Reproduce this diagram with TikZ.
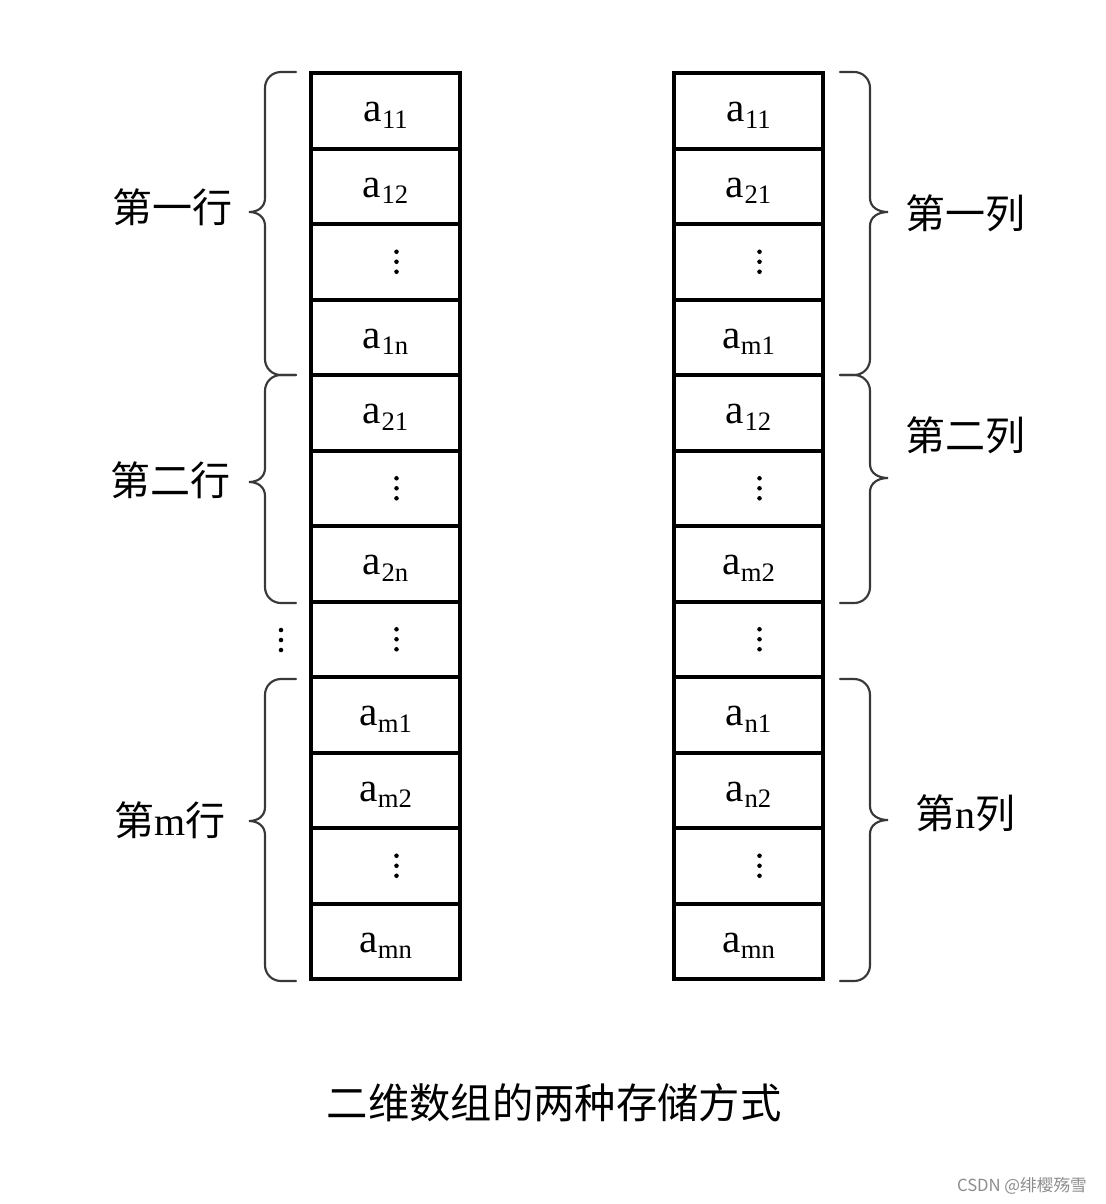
\documentclass[tikz,border=0pt]{standalone}
\usepackage{fontspec}
\setmainfont{Liberation Serif}
\newfontfamily\cjk{Noto Sans CJK SC}
\newcommand\asub[1]{\raisebox{-3.5pt}[\height][\depth]{a\kern0.3pt\raisebox{-5pt}{\fontsize{20}{20}\selectfont #1}}}
\newcommand\bracel[3]{%
  \draw[brc] (296,#1) -- (281,#1) .. controls (272,#1) and (265,#1+7) .. (265,#1+16)
    -- (265,#3-14) .. controls (265,#3-5) and (258,#3) .. (249,#3)
    .. controls (258,#3) and (265,#3+5) .. (265,#3+14)
    -- (265,#2-16) .. controls (265,#2-7) and (272,#2) .. (281,#2) -- (296,#2);}
\newcommand\bracer[3]{%
  \draw[brc] (840,#1) -- (854,#1) .. controls (863,#1) and (870,#1+7) .. (870,#1+16)
    -- (870,#3-14) .. controls (870,#3-5) and (878,#3) .. (888,#3)
    .. controls (878,#3) and (870,#3+5) .. (870,#3+14)
    -- (870,#2-16) .. controls (870,#2-7) and (863,#2) .. (854,#2) -- (840,#2);}
\newcommand\threedots[1]{%
  \foreach \d in {-10,0,10} {\fill[shift={(#1)}] (0,\d) circle[radius=1.7pt];}}
\begin{document}
\begin{tikzpicture}[x=0.75pt,y=-0.75pt,
  cell/.style={draw,line width=3pt,minimum width=111.75pt,minimum height=56.625pt,
    inner sep=0pt,font=\fontsize{31}{31}\selectfont},
  brc/.style={draw=black!78,line width=1.6pt,line cap=round},
  lab/.style={font=\fontsize{30}{30}\selectfont,inner sep=0pt}]
\useasboundingbox (0,0) rectangle (1106,1204);
% left column: row-major
\foreach [count=\i] \t in {\asub{11},\asub{12},,\asub{1n},\asub{21},,\asub{2n},,\asub{m1},\asub{m2},,\asub{mn}}
  {\node[cell] (L\i) at (385.5,{73+75.5*(\i-0.5)}) {\t};}
% right column: column-major
\foreach [count=\i] \t in {\asub{11},\asub{21},,\asub{m1},\asub{12},,\asub{m2},,\asub{n1},\asub{n2},,\asub{mn}}
  {\node[cell] (R\i) at (748.5,{73+75.5*(\i-0.5)}) {\t};}
% vertical dots inside cells
\foreach \k in {3,6,8,11} {
  \coordinate (LD\k) at ([xshift=8.25pt]L\k.center);
  \coordinate (RD\k) at ([xshift=8.25pt]R\k.center);
  \threedots{LD\k}
  \threedots{RD\k}
}
% left braces
\bracel{72}{375}{212}
\bracel{375}{603}{482}
\bracel{679}{981}{821}
% right braces
\bracer{72}{375}{212}
\bracer{375}{603}{478}
\bracer{679}{981}{820}
% labels
\node[lab] (row1) at (172,207) {\cjk 第一行};
\node[lab] (row2) at (170,480) {\cjk 第二行};
\node[lab] (rowm) at (170,820) {{\cjk 第}m{\cjk 行}};
\coordinate (ldots) at (281,640);
\threedots{ldots}
\node[lab] (col1) at (965,213) {\cjk 第一列};
\node[lab] (col2) at (965,435) {\cjk 第二列};
\node[lab] (coln) at (965,813) {{\cjk 第}n{\cjk 列}};
% caption
\node[font=\cjk\fontsize{31}{31}\selectfont,inner sep=0pt] (cap) at (554,1103) {二维数组的两种存储方式};
\node[font=\cjk\fontsize{12.5}{12.5}\selectfont,text=black!45,inner sep=0pt] (wm) at (1022,1186) {CSDN @绯樱殇雪};
\end{tikzpicture}
\end{document}
